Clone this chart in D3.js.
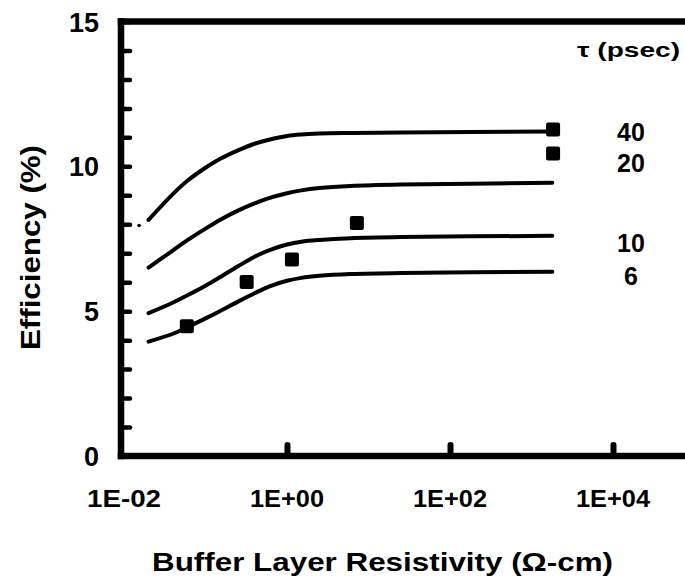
<!DOCTYPE html>
<html>
<head>
<meta charset="utf-8">
<script src="https://cdn.jsdelivr.net/npm/d3@7"></script>
<style>
  html, body { margin: 0; padding: 0; background: #fff; }
  svg { display: block; }
  text { font-family: "Liberation Sans", Arial, Helvetica, sans-serif; font-weight: 700; fill: #000; }
</style>
</head>
<body>
<svg id="chart" width="685" height="585"></svg>
<script>
// Buffer layer resistivity (Ω-cm) sampled along the model curves
const resistivity = [0.02, 0.04, 0.06, 0.1, 0.15, 0.25, 0.4, 0.6, 1, 1.5, 2.5, 6, 25, 1800];
// Modelled efficiency (%) for each carrier lifetime τ
const eff40 = [8.15, 9.05, 9.50, 9.95, 10.25, 10.55, 10.78, 10.92, 11.05, 11.10, 11.13, 11.15, 11.17, 11.20];
const eff20 = [6.50, 7.10, 7.45, 7.85, 8.15, 8.47, 8.72, 8.90, 9.07, 9.17, 9.25, 9.32, 9.37, 9.43];
const eff10 = [4.93, 5.30, 5.55, 5.88, 6.17, 6.55, 6.88, 7.10, 7.30, 7.40, 7.46, 7.52, 7.56, 7.60];
const eff6  = [3.95, 4.22, 4.45, 4.75, 5.00, 5.33, 5.62, 5.85, 6.05, 6.15, 6.22, 6.28, 6.32, 6.36];
// Lone dot ahead of the τ = 40 curve
const leadRes = [0.0153];
const leadEff = [7.96];
const tauLabels = ["40", "20", "10", "6"];
const tauLabelY = [11.2, 10.1, 7.35, 6.2];
// Measured cells
const measuredRes = [0.059, 0.32, 1.15, 7.2, 1840, 1840];
const measuredEff = [4.48, 6.01, 6.78, 8.04, 11.27, 10.44];
// Axis ticks
const xTickValues = [1e-2, 1e0, 1e2, 1e4];
const xTickLabels = ["1E-02", "1E+00", "1E+02", "1E+04"];
const yTickValues = [0, 1, 2, 3, 4, 5, 6, 7, 8, 9, 10, 11, 12, 13, 14, 15];
const yTickLabels = ["0", "5", "10", "15"];

const svg = d3.select("#chart");
const W = 685;

const x = d3.scaleLog().domain([1e-2, 1e4]).range([124, 613]);
const y = d3.scaleLinear().domain([0, 15]).range([456, 21.5]);

// Inward ticks on the left axis
const yAxis = d3.axisLeft(y)
  .tickValues(yTickValues)
  .tickSize(-9)
  .tickFormat(d => "");
const gy = svg.append("g").attr("transform", `translate(${x(1e-2) - 3},0)`).call(yAxis);
gy.select(".domain").remove();
gy.selectAll(".tick line").attr("stroke", "#000").attr("stroke-width", 4.5).attr("stroke-linecap", "round");

// Inward ticks on the bottom axis
const xAxis = d3.axisBottom(x)
  .tickValues(xTickValues.slice(1))
  .tickSize(-11)
  .tickFormat(d => "");
const gx = svg.append("g").attr("transform", `translate(0,${y(0)})`).call(xAxis);
gx.select(".domain").remove();
gx.selectAll(".tick line").attr("stroke", "#000").attr("stroke-width", 6).attr("stroke-linecap", "round");

// Frame: left, bottom and top spines
const frame = svg.append("g").attr("stroke", "#000").attr("stroke-width", 6.5).attr("stroke-linecap", "square");
frame.append("line").attr("x1", x(1e-2) - 3).attr("x2", x(1e-2) - 3).attr("y1", y(15)).attr("y2", y(0));
frame.append("line").attr("x1", x(1e-2) - 3).attr("x2", W + 5).attr("y1", y(0)).attr("y2", y(0));
frame.append("line").attr("x1", x(1e-2) - 3).attr("x2", W + 5).attr("y1", y(15)).attr("y2", y(15));

// Tick labels
svg.append("g").selectAll("text").data(yTickLabels).join("text")
  .attr("x", 99)
  .attr("y", d => y(+d) + 1)
  .attr("text-anchor", "end")
  .attr("dominant-baseline", "central")
  .style("font-size", "27px")
  .text(d => d);

svg.append("g").selectAll("text").data(xTickValues).join("text")
  .attr("x", d => x(d) - 37)
  .attr("y", 498)
  .attr("textLength", 74).attr("lengthAdjust", "spacingAndGlyphs")
  .attr("dominant-baseline", "central")
  .style("font-size", "24px")
  .text((d, i) => xTickLabels[i]);

// Axis titles
svg.append("text")
  .attr("x", 152).attr("y", 571)
  .attr("textLength", 461).attr("lengthAdjust", "spacingAndGlyphs")
  .style("font-size", "26px")
  .text("Buffer Layer Resistivity (Ω-cm)");

svg.append("text")
  .attr("transform", "translate(40,350) rotate(-90)")
  .attr("textLength", 205).attr("lengthAdjust", "spacingAndGlyphs")
  .style("font-size", "27px")
  .text("Efficiency (%)");

// Model curves
const series = [eff40, eff20, eff10, eff6];
const line = d3.line()
  .x((d, i) => x(resistivity[i]))
  .y(d => y(d))
  .curve(d3.curveCatmullRom.alpha(0.5));
svg.append("g").selectAll("path").data(series).join("path")
  .attr("d", line)
  .attr("fill", "none")
  .attr("stroke", "#000")
  .attr("stroke-width", 4)
  .attr("stroke-linecap", "round");

svg.append("g").selectAll("circle").data(leadRes).join("circle")
  .attr("cx", d => x(d))
  .attr("cy", (d, i) => y(leadEff[i]))
  .attr("r", 1.8)
  .attr("fill", "#000");

// Measured points
const sq = 14;
svg.append("g").selectAll("rect").data(measuredRes).join("rect")
  .attr("x", d => x(d) - sq / 2)
  .attr("y", (d, i) => y(measuredEff[i]) - sq / 2)
  .attr("width", sq).attr("height", sq)
  .attr("rx", 2)
  .attr("fill", "#000");

// Lifetime labels
svg.append("g").selectAll("text").data(tauLabels).join("text")
  .attr("x", 631)
  .attr("y", (d, i) => y(tauLabelY[i]))
  .attr("text-anchor", "middle")
  .attr("dominant-baseline", "central")
  .style("font-size", "25px")
  .text(d => d);

svg.append("text")
  .attr("x", 577).attr("y", 57)
  .attr("textLength", 103).attr("lengthAdjust", "spacingAndGlyphs")
  .style("font-size", "21px")
  .attr("fill", "#111")
  .text("τ (psec)");
</script>
</body>
</html>
